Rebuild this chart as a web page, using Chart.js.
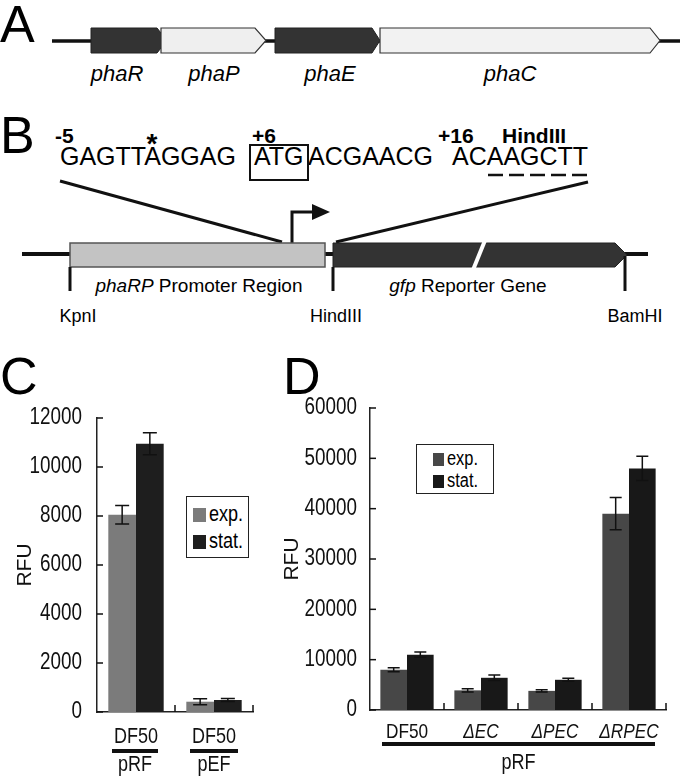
<!DOCTYPE html>
<html>
<head>
<meta charset="utf-8">
<script src="https://cdn.jsdelivr.net/npm/chart.js@4"></script>
<style>
  html, body { margin: 0; padding: 0; background: #fff; }
  #page { position: relative; width: 680px; height: 778px; overflow: hidden; font-family: 'Liberation Sans', Arial, sans-serif; }
  svg { position: absolute; left: 0; top: 0; }
  canvas { position: absolute; }
  .letter { position: absolute; font-size: 52px; line-height: 1; }
  .legend { position: absolute; border: 1.5px solid #222; background: #fff; box-sizing: border-box; }
  .legend .row { position: absolute; white-space: nowrap; transform: scaleX(0.82); transform-origin: 0 50%; }
  .legend .sw { position: absolute; }
</style>
</head>
<body>
<div id="page">

<!-- panels A and B: gene maps -->
<svg width="680" height="330" font-family="'Liberation Sans', Arial, sans-serif">
  <text x="0" y="42" font-size="52">A</text>
  <line x1="52" y1="41" x2="680" y2="41" stroke="#111" stroke-width="3.5"/>
  <polygon points="91,28 157,28 167,40.5 157,53 91,53" fill="#333" stroke="#222" stroke-width="1"/>
  <polygon points="161,28 255,28 266,40.5 255,53 161,53" fill="#efefef" stroke="#333" stroke-width="1.2"/>
  <polygon points="275,28 372,28 380,40.5 372,53 275,53" fill="#333" stroke="#222" stroke-width="1"/>
  <polygon points="380,28 650,28 660,40.5 650,53 380,53" fill="#f2f2f2" stroke="#333" stroke-width="1.2"/>
  <g font-size="22" font-style="italic" text-anchor="middle">
    <text x="117" y="81">phaR</text>
    <text x="214" y="81">phaP</text>
    <text x="330" y="81">phaE</text>
    <text x="510" y="81">phaC</text>
  </g>

  <text x="0" y="153" font-size="52">B</text>
  <g font-size="21" font-weight="bold">
    <text x="55" y="143">-5</text>
    <text x="152" y="153" font-size="28" text-anchor="middle">*</text>
    <text x="252" y="143">+6</text>
    <text x="438" y="143">+16</text>
    <text x="502" y="143">HindIII</text>
  </g>
  <g font-size="25">
    <text x="60" y="165">GAGTTAGGAG</text>
    <text x="254" y="165">ATG</text>
    <text x="308" y="165">ACGAACG</text>
    <text x="452" y="165">ACAAGCTT</text>
  </g>
  <rect x="250" y="145" width="58" height="35" fill="none" stroke="#111" stroke-width="2"/>
  <line x1="488" y1="175" x2="588" y2="175" stroke="#111" stroke-width="2.5" stroke-dasharray="15 6"/>

  <line x1="60" y1="181" x2="282" y2="242" stroke="#111" stroke-width="3"/>
  <line x1="336" y1="242" x2="588" y2="182" stroke="#111" stroke-width="3"/>
  <polyline points="292,243 292,212 316,212" fill="none" stroke="#111" stroke-width="3"/>
  <polygon points="312,204 330,212 312,220" fill="#111"/>

  <line x1="22" y1="254" x2="648" y2="254" stroke="#111" stroke-width="4"/>
  <rect x="70" y="243" width="255" height="24" fill="#c3c3c3" stroke="#555" stroke-width="1.5"/>
  <polygon points="333,243 615,243 627,255 615,267 333,267" fill="#333" stroke="#222" stroke-width="1"/>
  <line x1="486" y1="238" x2="473" y2="270" stroke="#fff" stroke-width="4"/>
  <line x1="70" y1="267" x2="70" y2="291" stroke="#111" stroke-width="3"/>
  <line x1="333" y1="267" x2="333" y2="291" stroke="#111" stroke-width="3"/>
  <line x1="625" y1="256" x2="625" y2="291" stroke="#111" stroke-width="3"/>

  <g font-size="19" text-anchor="middle">
    <text x="199" y="292"><tspan font-style="italic">phaRP</tspan> Promoter Region</text>
    <text x="468" y="292"><tspan font-style="italic">gfp</tspan> Reporter Gene</text>
  </g>
  <g font-size="18" text-anchor="middle">
    <text x="78" y="322">KpnI</text>
    <text x="336" y="322">HindIII</text>
    <text x="635" y="322">BamHI</text>
  </g>
</svg>

<div class="letter" style="left:0px; top:350px;">C</div>
<div class="letter" style="left:283px; top:350px;">D</div>

<canvas id="chartC" width="270" height="388" style="left:0px; top:390px;"></canvas>
<canvas id="chartD" width="400" height="388" style="left:280px; top:390px;"></canvas>

<div class="legend" style="left:186px; top:496px; width:63px; height:62px;">
  <div class="sw" style="left:6px; top:11px; width:13px; height:14px; background:#7b7b7b;"></div>
  <div class="row" style="left:22px; top:4px; font-size:22px;">exp.</div>
  <div class="sw" style="left:6px; top:38px; width:13px; height:14px; background:#1e1e1e;"></div>
  <div class="row" style="left:22px; top:31px; font-size:22px;">stat.</div>
</div>
<div class="legend" style="left:416px; top:444px; width:78px; height:50px;">
  <div class="sw" style="left:16px; top:8px; width:11px; height:13px; background:#474747;"></div>
  <div class="row" style="left:30px; top:2px; font-size:20px;">exp.</div>
  <div class="sw" style="left:16px; top:30px; width:11px; height:13px; background:#181818;"></div>
  <div class="row" style="left:30px; top:24px; font-size:20px;">stat.</div>
</div>

</div>

<script>
// panel C data
const strainsC = ['DF50', 'DF50'];
const plasmidsC = ['pRF', 'pEF'];
const expC = [8050, 420];
const expErrC = [380, 120];
const statC = [10950, 490];
const statErrC = [450, 60];
const ticksC = [0, 2000, 4000, 6000, 8000, 10000, 12000];

// panel D data
const strainsD = ['DF50', '\u0394EC', '\u0394PEC', '\u0394RPEC'];
const plasmidD = 'pRF';
const expD = [8000, 3900, 3800, 39000];
const expErrD = [400, 300, 200, 3200];
const statD = [11000, 6400, 6000, 48000];
const statErrD = [500, 550, 300, 2400];
const ticksD = [0, 10000, 20000, 30000, 40000, 50000, 60000];

const FONT = "'Liberation Sans', Arial, sans-serif";
const SQUEEZE = 0.82; // the original uses a condensed face
Chart.defaults.font.family = FONT;
Chart.defaults.color = '#111';

function narrowText(ctx, str, x, y, align, font) {
  ctx.save();
  ctx.font = font;
  ctx.textAlign = align;
  ctx.textBaseline = 'middle';
  ctx.translate(x, y);
  ctx.scale(SQUEEZE, 1);
  ctx.fillText(str, 0, 0);
  ctx.restore();
}

// error bars, inward ticks, condensed labels and strain underlines
const extras = {
  id: 'extras',
  afterDatasetsDraw(chart, args, opts) {
    const ctx = chart.ctx;
    const x = chart.scales.x, y = chart.scales.y;
    ctx.save();
    ctx.strokeStyle = '#111';
    ctx.fillStyle = '#111';
    ctx.lineWidth = 1.5;
    chart.data.datasets.forEach((ds, di) => {
      const meta = chart.getDatasetMeta(di);
      meta.data.forEach((bar, i) => {
        const v = ds.data[i], e = ds.err[i];
        const y1 = y.getPixelForValue(v + e), y2 = y.getPixelForValue(v - e);
        const cx = bar.x, hw = opts.cap;
        ctx.beginPath();
        ctx.moveTo(cx, y1); ctx.lineTo(cx, y2);
        ctx.moveTo(cx - hw, y1); ctx.lineTo(cx + hw, y1);
        ctx.moveTo(cx - hw, y2); ctx.lineTo(cx + hw, y2);
        ctx.stroke();
      });
    });
    // y ticks pointing into the plot, with labels
    y.ticks.forEach(t => {
      const py = y.getPixelForValue(t.value);
      ctx.beginPath();
      ctx.moveTo(x.left, py); ctx.lineTo(x.left + 6, py);
      ctx.stroke();
      narrowText(ctx, String(t.value), x.left - opts.yPad, py, 'right', '23px ' + FONT);
    });
    // x ticks between categories, pointing up
    const n = chart.data.labels.length;
    for (let i = 1; i <= n; i++) {
      const px = i < n ? (x.getPixelForValue(i - 1) + x.getPixelForValue(i)) / 2 : x.right;
      ctx.beginPath();
      ctx.moveTo(px, y.bottom); ctx.lineTo(px, y.bottom - 7);
      ctx.stroke();
    }
    // category names
    chart.data.labels.forEach((lab, i) => {
      const style = opts.italicFrom !== null && i >= opts.italicFrom ? 'italic ' : '';
      narrowText(ctx, lab, x.getPixelForValue(i), y.bottom + opts.labelY, 'center', style + opts.labelSize + 'px ' + FONT);
    });
    // thick underline bars and plasmid names
    ctx.lineWidth = 4;
    opts.underlines.forEach(u => {
      const a = x.getPixelForValue(u[0]) - u[2], b = x.getPixelForValue(u[1]) + u[3];
      ctx.beginPath();
      ctx.moveTo(a, y.bottom + opts.lineY);
      ctx.lineTo(b, y.bottom + opts.lineY);
      ctx.stroke();
      narrowText(ctx, u[4], (a + b) / 2, y.bottom + opts.plasmidY, 'center', '22px ' + FONT);
    });
    ctx.restore();
  }
};

function makeChart(id, cfg) {
  return new Chart(document.getElementById(id), {
    type: 'bar',
    data: {
      labels: cfg.labels,
      datasets: [
        { label: 'exp.', data: cfg.exp, err: cfg.expErr, backgroundColor: cfg.colors[0], borderWidth: 0 },
        { label: 'stat.', data: cfg.stat, err: cfg.statErr, backgroundColor: cfg.colors[1], borderWidth: 0 }
      ]
    },
    options: {
      responsive: false,
      animation: false,
      devicePixelRatio: 1,
      categoryPercentage: cfg.catPct,
      barPercentage: 1,
      layout: { padding: { top: cfg.padTop, right: cfg.padRight, left: 0, bottom: 0 } },
      plugins: {
        legend: { display: false },
        tooltip: { enabled: false },
        extras: {
          cap: cfg.cap, underlines: cfg.underlines, lineY: cfg.lineY, plasmidY: cfg.plasmidY,
          labelY: cfg.labelY, labelSize: cfg.labelSize, italicFrom: cfg.italicFrom, yPad: cfg.yPad
        }
      },
      scales: {
        x: {
          grid: { display: false },
          border: { display: true, color: '#222', width: 1.5 },
          ticks: { display: false },
          afterFit: s => { s.height = cfg.xHeight; }
        },
        y: {
          min: 0,
          max: cfg.ticks[cfg.ticks.length - 1],
          afterBuildTicks: s => { s.ticks = cfg.ticks.map(v => ({ value: v })); },
          grid: { display: false },
          border: { display: true, color: '#222', width: 1.5 },
          ticks: { display: false },
          title: {
            display: true, text: 'RFU', color: '#111',
            font: { size: 21 },
            padding: { top: cfg.titlePad, bottom: 0 }
          },
          afterFit: s => { s.width = cfg.yWidth; }
        }
      }
    },
    plugins: [extras]
  });
}

makeChart('chartC', {
  labels: strainsC, exp: expC, expErr: expErrC, stat: statC, statErr: statErrC,
  ticks: ticksC, colors: ['#7b7b7b', '#1e1e1e'], catPct: 0.71,
  padTop: 28, padRight: 17, xHeight: 66, yWidth: 97, yPad: 15, titlePad: 13,
  labelY: 25, labelSize: 22, italicFrom: null,
  cap: 7, underlines: [[0, 0, 24, 22, plasmidsC[0]], [1, 1, 24, 24, plasmidsC[1]]], lineY: 39, plasmidY: 53
});

makeChart('chartD', {
  labels: strainsD, exp: expD, expErr: expErrD, stat: statD, statErr: statErrD,
  ticks: ticksD, colors: ['#474747', '#181818'], catPct: 0.72,
  padTop: 18, padRight: 14, xHeight: 68, yWidth: 90, yPad: 13, titlePad: 0,
  labelY: 22, labelSize: 21, italicFrom: 1,
  cap: 6, underlines: [[0, 3, 25, 26, plasmidD]], lineY: 34, plasmidY: 53
});
</script>
</body>
</html>
